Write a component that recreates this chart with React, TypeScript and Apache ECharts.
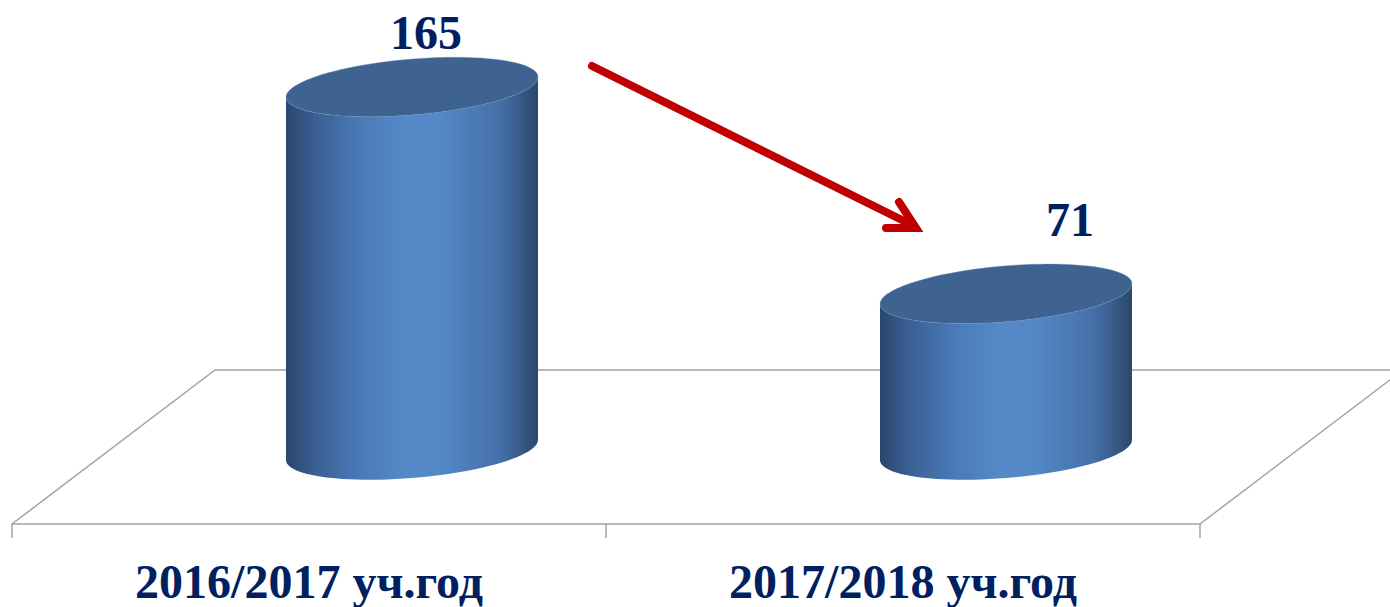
import React, { useEffect, useRef } from "react";
import * as echarts from "echarts";

const categories = ["2016/2017 уч.год", "2017/2018 уч.год"];
const values = [165, 71];

const NAVY = "#002060";
const FLOOR = "#a3a3a3";
const SERIF = "'Liberation Serif', 'Times New Roman', serif";

// 3D depth offset of the bars relative to the front axis edge
const DX = 103;
const DY = -74;
const RX = 126;
const RY = 28;
const SHEAR = -0.08;
const LABEL_SHIFT: number[][] = [
  [14, -55],
  [64, -74],
];

function ellipsePoint(cx: number, cy: number, t: number) {
  return [cx + RX * Math.cos(t), cy + RY * Math.sin(t) + SHEAR * RX * Math.cos(t)];
}

function arc(cx: number, cy: number, t0: number, t1: number, n: number) {
  const pts: number[][] = [];
  for (let i = 0; i <= n; i++) {
    const t = t0 + ((t1 - t0) * i) / n;
    pts.push(ellipsePoint(cx, cy, t));
  }
  return pts;
}

export default function App() {
  const ref = useRef<HTMLDivElement>(null);
  useEffect(() => {
    document.body.style.margin = "0";
    const chart = echarts.init(ref.current!, undefined, { renderer: "svg" });
    const data = values.map((v, i) => [i, v]);
    chart.setOption({
      animation: false,
      backgroundColor: "#ffffff",
      grid: { left: 12, right: 190, top: 84, bottom: 83 },
      xAxis: {
        type: "category",
        data: categories,
        boundaryGap: true,
        axisLine: { show: true, lineStyle: { color: FLOOR, width: 1.5 } },
        axisTick: { show: true, length: 14, lineStyle: { color: FLOOR, width: 1.5 } },
        axisLabel: {
          margin: 33,
          color: NAVY,
          fontFamily: SERIF,
          fontWeight: "bold",
          fontSize: 48,
        },
        splitLine: { show: false },
      },
      yAxis: {
        type: "value",
        min: 0,
        max: 200,
        show: false,
      },
      graphic: [
        {
          type: "polyline",
          z: 0,
          silent: true,
          shape: {
            points: [
              [12, 524],
              [215, 370],
              [1403, 370],
              [1200, 524],
            ],
          },
          style: { stroke: FLOOR, lineWidth: 1.5, fill: null },
        },
        {
          type: "group",
          z: 100,
          silent: true,
          children: [
            {
              type: "line",
              shape: { x1: 592, y1: 66, x2: 914, y2: 226 },
              style: { stroke: "#c00000", lineWidth: 8, lineCap: "round" },
            },
            {
              type: "polyline",
              shape: {
                points: [
                  [899, 202],
                  [916, 228],
                  [886, 228],
                ],
              },
              style: { stroke: "#c00000", lineWidth: 8, lineCap: "round", lineJoin: "miter", fill: null },
            },
          ],
        },
      ],
      series: [
        {
          type: "custom",
          z: 10,
          data,
          renderItem: (params: any, api: any) => {
            const idx = params.dataIndex;
            const base = api.coord([api.value(0), 0]);
            const top = api.coord([api.value(0), api.value(1)]);
            const cx = base[0] + DX;
            const by = base[1] + DY;
            const ty = top[1] + DY;
            const body = arc(cx, ty, 0, Math.PI, 48).concat(arc(cx, by, Math.PI, 0, 48));
            const cap = arc(cx, ty, 0, Math.PI * 2, 96);
            const sh = LABEL_SHIFT[idx] || [0, -60];
            return {
              type: "group",
              children: [
                {
                  type: "polygon",
                  shape: { points: body },
                  style: {
                    fill: new echarts.graphic.LinearGradient(0, 0, 1, 0, [
                      { offset: 0, color: "#2a466c" },
                      { offset: 0.12, color: "#3b6094" },
                      { offset: 0.3, color: "#4a7bb8" },
                      { offset: 0.48, color: "#5589c8" },
                      { offset: 0.62, color: "#5387c6" },
                      { offset: 0.85, color: "#4570a8" },
                      { offset: 1, color: "#2b476c" },
                    ]),
                  },
                },
                {
                  type: "polygon",
                  shape: { points: cap },
                  style: {
                    fill: "#3e6391",
                    stroke: "rgba(110,150,205,0.35)",
                    lineWidth: 1,
                  },
                },
                {
                  type: "text",
                  style: {
                    text: String(api.value(1)),
                    x: cx + sh[0],
                    y: ty + sh[1],
                    align: "center",
                    verticalAlign: "middle",
                    fill: NAVY,
                    fontFamily: SERIF,
                    fontWeight: "bold",
                    fontSize: 48,
                  },
                },
              ],
            };
          },
        },
      ],
    });
    return () => chart.dispose();
  }, []);
  return <div ref={ref} style={{ width: 1390, height: 607 }} />;
}
